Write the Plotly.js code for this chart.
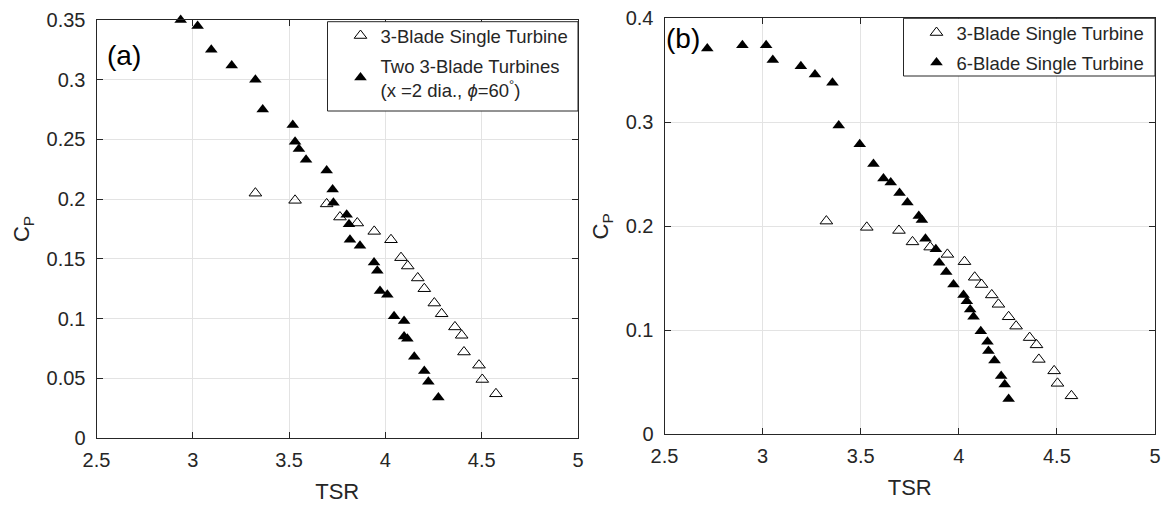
<!DOCTYPE html>
<html>
<head>
<meta charset="utf-8">
<script src="https://cdn.plot.ly/plotly-3.0.1.min.js"></script>
<style>html,body{margin:0;padding:0;background:#fff;}#chart{width:1168px;height:506px;}</style>
</head>
<body>
<div id="chart"></div>
<script>
// ---- data ----
const singleTSR = [3.325, 3.531, 3.695, 3.764, 3.854, 3.942, 4.029, 4.081, 4.116, 4.168, 4.202, 4.254, 4.292, 4.361, 4.396, 4.408, 4.486, 4.503, 4.574];
const singleCp  = [0.205, 0.199, 0.196, 0.185, 0.180, 0.173, 0.166, 0.151, 0.144, 0.134, 0.125, 0.113, 0.104, 0.093, 0.086, 0.072, 0.061, 0.049, 0.037];

const twoTSR = [2.937, 3.025, 3.096, 3.202, 3.325, 3.363, 3.519, 3.531, 3.551, 3.588, 3.695, 3.726, 3.730, 3.799, 3.811, 3.816, 3.868, 3.941, 3.958, 3.972, 4.010, 4.045, 4.097, 4.097, 4.114, 4.150, 4.202, 4.223, 4.275];
const twoCp  = [0.350, 0.345, 0.325, 0.312, 0.300, 0.275, 0.262, 0.248, 0.242, 0.233, 0.224, 0.208, 0.197, 0.187, 0.179, 0.166, 0.161, 0.147, 0.140, 0.123, 0.120, 0.102, 0.098, 0.085, 0.083, 0.068, 0.056, 0.047, 0.034];

const sixTSR = [2.718, 2.897, 3.018, 3.052, 3.195, 3.267, 3.356, 3.388, 3.495, 3.565, 3.616, 3.653, 3.698, 3.738, 3.796, 3.812, 3.830, 3.883, 3.900, 3.936, 3.973, 4.024, 4.041, 4.058, 4.075, 4.112, 4.146, 4.151, 4.182, 4.216, 4.234, 4.254];
const sixCp  = [0.371, 0.374, 0.374, 0.360, 0.354, 0.346, 0.338, 0.297, 0.279, 0.260, 0.246, 0.242, 0.232, 0.223, 0.210, 0.206, 0.188, 0.178, 0.165, 0.156, 0.144, 0.134, 0.128, 0.120, 0.113, 0.099, 0.089, 0.080, 0.071, 0.056, 0.048, 0.034];

const xTickVals = [2.5, 3, 3.5, 4, 4.5, 5];
const xTickText = ['2.5', '3', '3.5', '4', '4.5', '5'];
const yTickValsA = [0, 0.05, 0.1, 0.15, 0.2, 0.25, 0.3, 0.35];
const yTickTextA = ['0', '0.05', '0.1', '0.15', '0.2', '0.25', '0.3', '0.35'];
const yTickValsB = [0, 0.1, 0.2, 0.3, 0.4];
const yTickTextB = ['0', '0.1', '0.2', '0.3', '0.4'];

const nameSingle = '3-Blade Single Turbine';
const nameTwo = 'Two 3-Blade Turbines<br>(x =2 dia., <i>ϕ</i>=60<sup>°</sup>)';
const nameSix = '6-Blade Single Turbine';
const panelA = '(a)';
const panelB = '(b)';
const xTitle = 'TSR';
const yTitle = 'C<sub>P</sub>';

// ---- layout geometry (pixels) ----
const W = 1168, H = 506;
const M = {l: 40, r: 10, t: 10, b: 60, autoexpand: false};
const PW = W - M.l - M.r, PH = H - M.t - M.b;
const px = (p) => (p - M.l) / PW;
const py = (p) => (H - M.b - p) / PH;

const FONT = 'Liberation Sans, Arial, sans-serif';
const INK = '#262626';
const GRID = '#e3e3e3';

const openMarker = {symbol: 'triangle-up-open', size: 11, color: '#000', line: {color: '#000', width: 1}};
const fillMarker = {symbol: 'triangle-up', size: 11, color: '#000', line: {color: '#000', width: 0}};

const traces = [
  {x: singleTSR, y: singleCp, type: 'scatter', mode: 'markers', name: nameSingle, marker: openMarker, xaxis: 'x', yaxis: 'y', legend: 'legend', legendgroup: 'a1', cliponaxis: false},
  {x: twoTSR, y: twoCp, type: 'scatter', mode: 'markers', name: nameTwo, marker: fillMarker, xaxis: 'x', yaxis: 'y', legend: 'legend', legendgroup: 'a2', cliponaxis: false},
  {x: singleTSR, y: singleCp, type: 'scatter', mode: 'markers', name: nameSingle, marker: openMarker, xaxis: 'x2', yaxis: 'y2', legend: 'legend2', legendgroup: 'b1', cliponaxis: false},
  {x: sixTSR, y: sixCp, type: 'scatter', mode: 'markers', name: nameSix, marker: fillMarker, xaxis: 'x2', yaxis: 'y2', legend: 'legend2', legendgroup: 'b2', cliponaxis: false}
];

function xax(domain, anchor) {
  return {
    domain: domain, anchor: anchor, range: [2.5, 5], tickvals: xTickVals, ticktext: xTickText,
    showgrid: true, gridcolor: GRID, gridwidth: 1, zeroline: false,
    showline: true, linecolor: INK, linewidth: 1, mirror: 'ticks',
    ticks: 'inside', ticklen: 6, tickcolor: INK, tickwidth: 1,
    tickfont: {family: FONT, size: 20, color: INK}, ticklabelstandoff: 4,
    title: {text: xTitle, font: {family: FONT, size: 22, color: INK}, standoff: 13}
  };
}
function yax(domain, anchor, range, vals, text) {
  return {
    domain: domain, anchor: anchor, range: range, tickvals: vals, ticktext: text,
    showgrid: true, gridcolor: GRID, gridwidth: 1, zeroline: false,
    showline: true, linecolor: INK, linewidth: 1, mirror: 'ticks',
    ticks: 'inside', ticklen: 6, tickcolor: INK, tickwidth: 1,
    tickfont: {family: FONT, size: 20, color: INK}, ticklabelstandoff: 6,
    title: {text: yTitle, font: {family: FONT, size: 22, color: INK}, standoff: 10}
  };
}

const legendBase = {
  xref: 'paper', yref: 'paper', xanchor: 'left', yanchor: 'top',
  bgcolor: 'rgba(0,0,0,0)', borderwidth: 0, traceorder: 'grouped',
  font: {family: FONT, size: 18.5, color: INK}, itemwidth: 30, tracegroupgap: 3
};

const boxStyle = {type: 'rect', xref: 'paper', yref: 'paper', fillcolor: '#ffffff', line: {color: INK, width: 1}, layer: 'above'};

const layout = {
  width: W, height: H, margin: M, showlegend: true,
  paper_bgcolor: '#ffffff', plot_bgcolor: '#ffffff',
  font: {family: FONT, color: INK},
  xaxis: xax([px(96.5), px(578)], 'y'),
  yaxis: yax([py(438), py(20)], 'x', [0, 0.35], yTickValsA, yTickTextA),
  xaxis2: xax([px(664.5), px(1155)], 'y2'),
  yaxis2: yax([py(434.3), py(18.3)], 'x2', [0, 0.4], yTickValsB, yTickTextB),
  legend: Object.assign({}, legendBase, {x: px(340.5), y: py(17)}),
  legend2: Object.assign({}, legendBase, {x: px(916.5), y: py(14)}),
  shapes: [
    Object.assign({}, boxStyle, {x0: px(327.5), x1: px(578), y0: py(111), y1: py(21.7)}),
    Object.assign({}, boxStyle, {x0: px(903.5), x1: px(1155), y0: py(76), y1: py(18.3)})
  ],
  annotations: [
    {text: panelA, xref: 'x domain', yref: 'y domain', x: 0.018, y: 0.914, xanchor: 'left', yanchor: 'middle', showarrow: false, font: {family: FONT, size: 28, color: '#000'}},
    {text: panelB, xref: 'x2 domain', yref: 'y2 domain', x: -0.002, y: 0.952, xanchor: 'left', yanchor: 'middle', showarrow: false, font: {family: FONT, size: 28, color: '#000'}}
  ]
};

Plotly.newPlot('chart', traces, layout, {staticPlot: true, displayModeBar: false});
</script>
</body>
</html>
